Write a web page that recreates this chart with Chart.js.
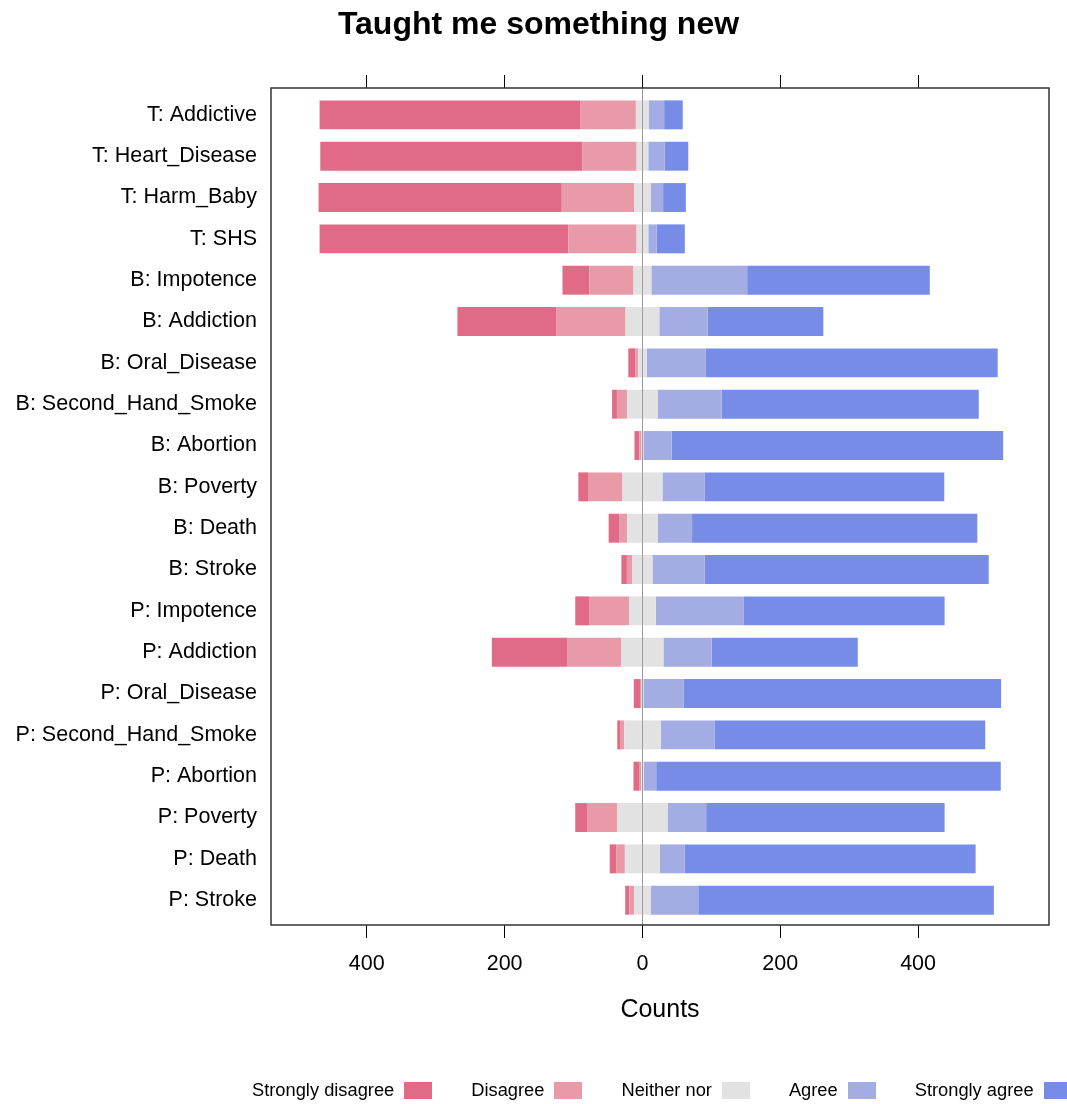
<!DOCTYPE html>
<html>
<head>
<meta charset="utf-8">
<script src="https://cdn.jsdelivr.net/npm/chart.js@4/dist/chart.umd.min.js"></script>
<style>
  html, body { margin: 0; padding: 0; background: #fff; }
  #wrap { position: relative; width: 1067px; height: 1104px; }
  #legend {
    position: absolute; left: 252px; top: 1079px;
    display: flex; align-items: center; gap: 39px;
    font-family: 'Liberation Sans', Arial, sans-serif; font-size: 18.3px; color: #000;
  }
  #legend .item { display: flex; align-items: center; gap: 10px; white-space: nowrap; }
  #legend .box { width: 28px; height: 17px; display: inline-block; }
</style>
</head>
<body>
<div id="wrap">
  <canvas id="chart" width="1067" height="1104"></canvas>
  <div id="legend"></div>
</div>
<script>
// Survey items, top to bottom
const categories = [
  'T: Addictive', 'T: Heart_Disease', 'T: Harm_Baby', 'T: SHS',
  'B: Impotence', 'B: Addiction', 'B: Oral_Disease', 'B: Second_Hand_Smoke',
  'B: Abortion', 'B: Poverty', 'B: Death', 'B: Stroke',
  'P: Impotence', 'P: Addiction', 'P: Oral_Disease', 'P: Second_Hand_Smoke',
  'P: Abortion', 'P: Poverty', 'P: Death', 'P: Stroke'
];

// Response counts per item
const stronglyDisagree = [378, 380, 353, 361, 39, 144, 10, 7, 7, 15, 15, 8, 20, 110, 9, 4, 9, 17, 10, 6];
const disagree         = [81, 79, 105, 99, 64, 100, 4, 15, 3, 49, 12, 8, 58, 78, 2, 6, 2, 44, 12, 7];
const neitherNor       = [19, 17, 24, 17, 26, 49, 13, 44, 3, 58, 44, 29, 39, 61, 3, 53, 4, 73, 51, 24];
const agree            = [22, 24, 18, 12, 139, 70, 85, 93, 41, 61, 50, 76, 127, 70, 58, 78, 18, 56, 36, 69];
const stronglyAgree    = [27, 34, 33, 41, 265, 168, 424, 373, 481, 348, 414, 412, 292, 212, 461, 393, 500, 346, 422, 429];

const levelNames = ['Strongly disagree', 'Disagree', 'Neither nor', 'Agree', 'Strongly agree'];
const levelColors = ['#E16A86', '#E89AA9', '#E2E2E2', '#A3ADE3', '#778CE6'];

const xTickValues = [-400, -200, 0, 200, 400];
const xRange = [-539, 590];

Chart.defaults.font.family = "'Liberation Sans', Arial, sans-serif";
Chart.defaults.color = '#000';

const toPoints = (arr, f) => arr.map((v, i) => ({ x: f(v), y: i }));

// Negative side stacks outward from zero: neutral half, disagree, strongly disagree
const datasets = [
  { label: 'Neither nor (left)', data: toPoints(neitherNor, v => -v / 2), backgroundColor: levelColors[2] },
  { label: levelNames[1], data: toPoints(disagree, v => -v), backgroundColor: levelColors[1] },
  { label: levelNames[0], data: toPoints(stronglyDisagree, v => -v), backgroundColor: levelColors[0] },
  { label: 'Neither nor (right)', data: toPoints(neitherNor, v => v / 2), backgroundColor: levelColors[2] },
  { label: levelNames[3], data: toPoints(agree, v => v), backgroundColor: levelColors[3] },
  { label: levelNames[4], data: toPoints(stronglyAgree, v => v), backgroundColor: levelColors[4] }
].map(d => Object.assign(d, { barPercentage: 0.7, categoryPercentage: 1, borderWidth: 0 }));

const setXTicks = scale => { scale.ticks = xTickValues.map(v => ({ value: v })); };

// Frame around the plotting region
const framePlugin = {
  id: 'frame',
  afterDraw(chart) {
    const { ctx, chartArea: a } = chart;
    ctx.save();
    ctx.strokeStyle = '#333';
    ctx.lineWidth = 1.5;
    ctx.strokeRect(a.left, a.top, a.right - a.left, a.bottom - a.top);
    ctx.restore();
  }
};

new Chart(document.getElementById('chart'), {
  type: 'bar',
  data: { datasets },
  plugins: [framePlugin],
  options: {
    indexAxis: 'y',
    responsive: false,
    animation: false,
    layout: { padding: { left: 0, right: -10, top: 0, bottom: 60 } },
    plugins: {
      legend: { display: false },
      tooltip: { enabled: false },
      title: {
        display: true,
        text: 'Taught me something new',
        font: { size: 32, weight: 'bold', lineHeight: 1.2 },
        color: '#000',
        padding: { top: 6, bottom: 0 }
      }
    },
    scales: {
      x: {
        type: 'linear', position: 'bottom', stacked: true,
        min: xRange[0], max: xRange[1],
        afterBuildTicks: setXTicks,
        afterFit: s => { s.height = 119; },
        ticks: { callback: v => Math.abs(v), font: { size: 21.5 }, padding: 13, maxRotation: 0, includeBounds: false },
        grid: {
          drawOnChartArea: true, drawTicks: true, tickLength: 13, tickColor: '#000', tickWidth: 1,
          color: c => (c.tick && c.tick.value === 0) ? '#999' : 'rgba(0,0,0,0)',
          lineWidth: 1
        },
        border: { display: false },
        title: { display: true, text: 'Counts', font: { size: 25 }, padding: { top: 0, bottom: 19 } }
      },
      x2: {
        type: 'linear', position: 'top',
        min: xRange[0], max: xRange[1],
        afterBuildTicks: setXTicks,
        afterFit: s => { s.height = 43.6; },
        ticks: { display: false, includeBounds: false },
        grid: { drawOnChartArea: false, drawTicks: true, tickLength: 13, tickColor: '#000', color: '#000' },
        border: { display: false }
      },
      y: {
        type: 'linear', position: 'left', reverse: true, stacked: true, offset: false,
        min: -0.65, max: categories.length - 1 + 0.6,
        afterBuildTicks: s => { s.ticks = categories.map((_, i) => ({ value: i })); },
        afterFit: s => { s.width = 271; },
        ticks: { callback: v => categories[v] ?? '', font: { size: 21.5 }, padding: 14, autoSkip: false },
        grid: { display: false, drawTicks: false, offset: false },
        border: { display: false }
      },
      yRight: {
        type: 'linear', position: 'right', offset: false,
        min: 0, max: 1,
        afterFit: s => { s.width = 28; },
        ticks: { display: false },
        grid: { display: false, drawTicks: false },
        border: { display: false }
      }
    }
  }
});

// Legend row: label followed by its colour key
const legendEl = document.getElementById('legend');
levelNames.forEach((name, i) => {
  const item = document.createElement('div');
  item.className = 'item';
  const txt = document.createElement('span');
  txt.textContent = name;
  const box = document.createElement('span');
  box.className = 'box';
  box.style.background = levelColors[i];
  item.appendChild(txt);
  item.appendChild(box);
  legendEl.appendChild(item);
});
</script>
</body>
</html>
